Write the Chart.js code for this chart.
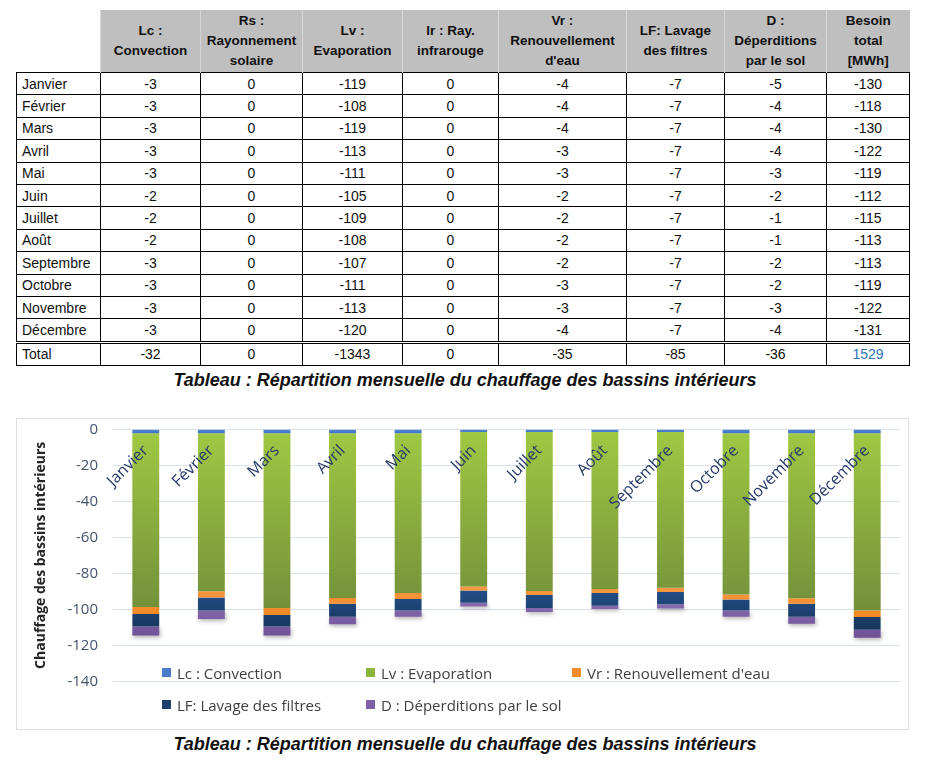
<!DOCTYPE html>
<html><head><meta charset="utf-8">
<script src="https://cdn.jsdelivr.net/npm/chart.js"></script>
<style>
html,body{margin:0;padding:0;background:#fff;width:930px;height:761px;overflow:hidden;}
#tbl{position:absolute;left:16px;top:10px;border-collapse:collapse;table-layout:fixed;width:893px;font-family:"Liberation Sans",Arial,sans-serif;color:#111;}
#tbl th{background:#bfbfbf;font-weight:bold;font-size:13.5px;line-height:20px;height:62px;padding:0;border-left:1px solid #d6d6d6;vertical-align:middle;text-align:center;color:#111;}
#tbl th.blank{background:#fff;border:none;}
#tbl td{border:1px solid #000;font-size:14px;height:21.4px;padding:0;text-align:center;}
#tbl td.m{text-align:left;padding-left:5px;}
#tbl tr.total td{border-top:3px double #000;}
#tbl td.blue{color:#2e75b6;}
.cap{position:absolute;left:0;width:930px;text-align:center;font-family:"Liberation Sans",Arial,sans-serif;font-weight:bold;font-style:italic;font-size:18px;color:#111;}
#frame{position:absolute;left:16px;top:418px;width:893px;height:312px;border:1px solid #dde1e6;box-sizing:border-box;}
#c{position:absolute;left:16px;top:418px;}
.lg{position:absolute;font-family:"Open Sans",sans-serif;font-size:15px;color:#404040;white-space:nowrap;line-height:18px;}
.lg i{position:absolute;width:9px;height:9px;left:0;top:4px;}
.lg span{position:absolute;left:15px;top:0;}
</style></head>
<body>
<table id="tbl"></table>
<div class="cap" style="top:370px;">Tableau : Répartition mensuelle du chauffage des bassins intérieurs</div>
<div id="frame"></div>
<canvas id="c" width="893" height="312"></canvas>
<div id="legend"></div>
<div class="cap" style="top:734px;">Tableau : Répartition mensuelle du chauffage des bassins intérieurs</div>
<script>
// ---- Table data ----
const months = ['Janvier','Février','Mars','Avril','Mai','Juin','Juillet','Août','Septembre','Octobre','Novembre','Décembre'];
const tableHeaders = ['Lc :\nConvection','Rs :\nRayonnement\nsolaire','Lv :\nEvaporation','Ir : Ray.\ninfrarouge','Vr :\nRenouvellement\nd\'eau','LF: Lavage\ndes filtres','D :\nDéperditions\npar le sol','Besoin\ntotal\n[MWh]'];
const tableLc = [-3,-3,-3,-3,-3,-2,-2,-2,-3,-3,-3,-3];
const tableRs = [0,0,0,0,0,0,0,0,0,0,0,0];
const tableLv = [-119,-108,-119,-113,-111,-105,-109,-108,-107,-111,-113,-120];
const tableIr = [0,0,0,0,0,0,0,0,0,0,0,0];
const tableVr = [-4,-4,-4,-3,-3,-2,-2,-2,-2,-3,-3,-4];
const tableLF = [-7,-7,-7,-7,-7,-7,-7,-7,-7,-7,-7,-7];
const tableD = [-5,-4,-4,-4,-3,-2,-1,-1,-2,-2,-3,-4];
const tableBesoin = [-130,-118,-130,-122,-119,-112,-115,-113,-113,-119,-122,-131];
const totalLabel = 'Total';
const totalRow = [-32,0,-1343,0,-35,-85,-36,1529];

// ---- Chart data ----
const seriesLabels = ['Lc : Convection','Lv : Evaporation','Vr : Renouvellement d\'eau','LF: Lavage des filtres','D : Déperditions par le sol'];
const chartLc = [-2.2,-2.2,-2.2,-2.2,-2.2,-1.5,-1.5,-1.5,-1.5,-2.2,-2.2,-2.2];
const chartLv = [-96.5,-87.8,-97.1,-91.5,-88.7,-85.9,-88.3,-87.2,-86.5,-89.6,-91.7,-98.4];
const chartVr = [-3.9,-3.4,-3.9,-3.2,-3.4,-2.2,-2.2,-2.2,-2.4,-2.8,-3.0,-3.7];
const chartLF = [-7.0,-7.2,-6.4,-7.2,-6.4,-6.7,-7.3,-7.1,-6.8,-6.1,-7.2,-7.0];
const chartD = [-5.0,-4.8,-5.0,-4.2,-3.4,-2.2,-2.2,-1.8,-2.4,-3.4,-3.9,-4.5];
const yTitle = 'Chauffage des bassins intérieurs';

// ---- Build table ----
(function(){
  const t = document.getElementById('tbl');
  const widths = [84,100,102,100,96,128,98,102,83];
  let h = '<colgroup>' + widths.map(w=>'<col style="width:'+w+'px">').join('') + '</colgroup>';
  h += '<tr><th class="blank"></th>' + tableHeaders.map(x=>'<th>'+x.split('\n').join('<br>')+'</th>').join('') + '</tr>';
  const cols = [tableLc,tableRs,tableLv,tableIr,tableVr,tableLF,tableD,tableBesoin];
  months.forEach((m,i)=>{
    h += '<tr><td class="m">'+m+'</td>' + cols.map(c=>'<td>'+c[i]+'</td>').join('') + '</tr>';
  });
  h += '<tr class="total"><td class="m">'+totalLabel+'</td>' + totalRow.map((v,i)=>'<td'+(i===totalRow.length-1?' class="blue"':'')+'>'+v+'</td>').join('') + '</tr>';
  t.innerHTML = h;
})();

// ---- Chart ----
function grad(c1, c2, v0, v1){
  return (ctx)=>{
    const ch = ctx.chart;
    if (!ch.chartArea || !ch.scales.y) return c1;
    const ys = ch.scales.y;
    const g = ch.ctx.createLinearGradient(0, ys.getPixelForValue(v0), 0, ys.getPixelForValue(v1));
    g.addColorStop(0, c1); g.addColorStop(1, c2);
    return g;
  };
}
const legendColors = ['#4a7ccc','#8cb43c','#f58b2c','#1f3f6d','#7e60a6'];
const shadowPlugin = {
  id:'shadow',
  beforeDatasetDraw(chart,args){ if(args.index!==4) return; const c=chart.ctx; c.save(); c.shadowColor='rgba(0,0,0,0.3)'; c.shadowBlur=4; c.shadowOffsetX=1; c.shadowOffsetY=2; },
  afterDatasetDraw(chart,args){ if(args.index!==4) return; chart.ctx.restore(); }
};
const chart = new Chart(document.getElementById('c'), {
  type:'bar',
  data:{
    labels: months,
    datasets:[
      {label:seriesLabels[0], data:chartLc, backgroundColor:grad('#5288d6','#3b6bbd',0,-3)},
      {label:seriesLabels[1], data:chartLv, backgroundColor:grad('#9fc843','#74913a',-2,-98)},
      {label:seriesLabels[2], data:chartVr, backgroundColor:grad('#f99a48','#f0861f',-85,-105)},
      {label:seriesLabels[3], data:chartLF, backgroundColor:grad('#24508a','#17355c',-88,-112)},
      {label:seriesLabels[4], data:chartD, backgroundColor:grad('#8a6cb0','#6d5096',-95,-116)}
    ]
  },
  options:{
    responsive:false, animation:false,
    layout:{padding:{top:11.3,bottom:48.7,left:0,right:9}},
    plugins:{legend:{display:false},tooltip:{enabled:false}},
    datasets:{bar:{categoryPercentage:1,barPercentage:0.41,borderWidth:0}},
    scales:{
      x:{stacked:true, position:{y:0}, grid:{display:false}, border:{display:false},
        ticks:{minRotation:45,maxRotation:45,autoSkip:false,padding:4,z:1,color:'#263a68',font:{family:'Open Sans',size:16}},
        afterFit:(s)=>{s.height=0;s.paddingLeft=0;s.paddingRight=0;s.paddingTop=0;s.paddingBottom=0;}},
      y:{stacked:true,min:-140,max:0,
        ticks:{stepSize:20,padding:15,color:'#44546a',font:{family:'Open Sans',size:15}},
        grid:{color:'#d9e1ea',drawTicks:false}, border:{display:false},
        title:{display:true,text:yTitle,color:'#262626',font:{family:'Open Sans',size:14,weight:'bold'},padding:{top:17,bottom:0}},
        afterFit:(s)=>{s.width=97;s.paddingTop=0;s.paddingBottom=0;s.paddingLeft=0;s.paddingRight=0;}}
    }
  },
  plugins:[shadowPlugin]
});

// ---- HTML legend from the chart's datasets ----
(function(){
  const slots = [[162,664],[366,664],[572,664],[162,696],[366,696]];
  const lg = document.getElementById('legend');
  chart.data.datasets.forEach((ds,i)=>{
    const d = document.createElement('div');
    d.className='lg';
    d.style.left = slots[i][0]+'px'; d.style.top = slots[i][1]+'px';
    d.innerHTML = '<i style="background:'+legendColors[i]+'"></i><span></span>';
    d.querySelector('span').textContent = ds.label;
    lg.appendChild(d);
  });
})();
</script>
</body></html>
